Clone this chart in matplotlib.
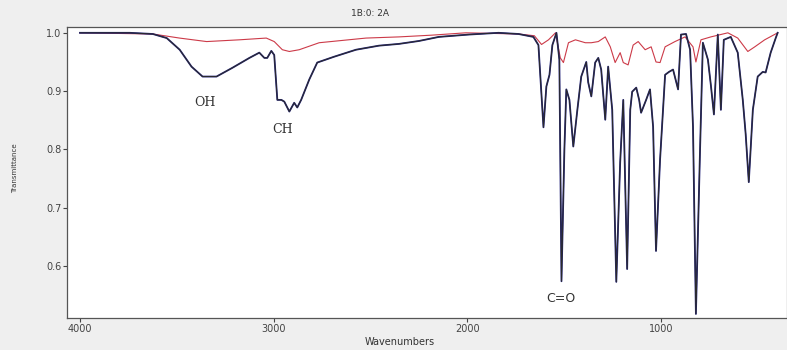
import matplotlib
matplotlib.use("Agg")
import matplotlib.pyplot as plt

# sample spectrum (wavenumber, transmittance)
sample_wn = [4000, 3743, 3624, 3552, 3485, 3424, 3367, 3295, 3213, 3125, 3074, 3048, 3033, 3012,
             2997, 2981, 2960, 2945, 2919, 2894, 2878, 2858, 2816, 2775, 2688, 2575,
             2456, 2353, 2250, 2147, 1993, 1839, 1736, 1659, 1633, 1607, 1592, 1576,
             1561, 1540, 1525, 1514, 1499, 1489, 1473, 1453, 1432, 1412, 1386, 1376,
             1360, 1340, 1324, 1309, 1288, 1273, 1252, 1231, 1211, 1195, 1175, 1159,
             1149, 1128, 1113, 1103, 1077, 1057, 1041, 1026, 1005, 979, 959, 938,
             912, 897, 871, 850, 835, 820, 799, 784, 758, 743, 727, 707, 691, 676,
             640, 604, 578, 563, 547, 526, 501, 475, 460, 434, 408, 398]
sample_t = [1.000, 1.000, 0.998, 0.991, 0.971, 0.942, 0.925, 0.925, 0.940, 0.957, 0.966, 0.957, 0.957, 0.969,
            0.962, 0.885, 0.885, 0.882, 0.865, 0.880, 0.872, 0.885, 0.920, 0.949, 0.959, 0.971,
            0.978, 0.981, 0.986, 0.993, 0.997, 1.000, 0.998, 0.993, 0.979, 0.838, 0.908, 0.928,
            0.979, 1.000, 0.954, 0.574, 0.800, 0.903, 0.885, 0.805, 0.868, 0.925, 0.950, 0.915,
            0.891, 0.949, 0.957, 0.937, 0.851, 0.942, 0.868, 0.573, 0.778, 0.885, 0.595, 0.868,
            0.899, 0.906, 0.885, 0.863, 0.885, 0.903, 0.839, 0.626, 0.783, 0.928, 0.933, 0.937,
            0.903, 0.997, 0.998, 0.971, 0.839, 0.518, 0.795, 0.983, 0.954, 0.911, 0.860, 0.997,
            0.868, 0.988, 0.993, 0.966, 0.885, 0.826, 0.744, 0.868, 0.925, 0.933, 0.932, 0.966,
            0.991, 1.000]

# reference spectrum
ref_wn = [4000, 3624, 3486, 3346, 3177, 3038, 2997, 2955, 2919, 2868, 2765, 2523,
          2353, 2183, 2008, 1736, 1654, 1617, 1581, 1545, 1520, 1504, 1478, 1442,
          1391, 1360, 1324, 1288, 1262, 1237, 1211, 1195, 1170, 1144, 1118, 1082,
          1051, 1026, 1005, 979, 928, 876, 835, 820, 794, 743, 655, 604, 552, 516,
          465, 398]
ref_t = [1.000, 0.998, 0.991, 0.985, 0.988, 0.991, 0.985, 0.971, 0.968, 0.971, 0.983, 0.991,
         0.993, 0.996, 1.000, 0.998, 0.995, 0.980, 0.988, 1.000, 0.957, 0.949, 0.983, 0.988,
         0.983, 0.983, 0.985, 0.993, 0.976, 0.949, 0.966, 0.949, 0.945, 0.979, 0.985, 0.971,
         0.976, 0.950, 0.949, 0.976, 0.985, 0.993, 0.976, 0.950, 0.988, 0.993, 1.000, 0.991,
         0.968, 0.976, 0.988, 1.000]

y_ticks = [0.6, 0.7, 0.8, 0.9, 1.0]
x_ticks = [4000, 3000, 2000, 1000]

# band labels: text, wavenumber, transmittance
bands = [("OH", 3357, 0.880, "serif"),
         ("CH", 2955, 0.834, "serif"),
         ("C=O", 1515, 0.545, "sans-serif")]

fig = plt.figure(figsize=(7.87, 3.5), dpi=100, facecolor="#efefef")
ax = fig.add_axes([0.0851, 0.0914, 0.9136, 0.8315])
ax.set_facecolor("white")

ax.plot(ref_wn, ref_t, color="#cc3a48", lw=0.8, zorder=2)
ax.plot(sample_wn, sample_t, color="#23237a", lw=1.3, zorder=3)
ax.plot(sample_wn, sample_t, color="#2b2b2b", lw=0.7, zorder=4)

ax.set_xlim(4067, 355)
ax.set_ylim(0.511, 1.010)
ax.set_xticks(x_ticks)
ax.set_xticklabels([str(v) for v in x_ticks])
ax.set_yticks(y_ticks)
ax.set_yticklabels(["%.1f" % v for v in y_ticks])
ax.tick_params(labelsize=7, colors="#444444", length=3, width=0.8, pad=1)

for s in ax.spines.values():
    s.set_color("#555555")
    s.set_linewidth(0.9)
ax.spines["right"].set_visible(False)

for text, wn, t, fam in bands:
    ax.text(wn, t, text, family=fam, fontsize=9, color="#333333",
            ha="center", va="center")

fig.text(0.47, 0.96, "1B:0: 2A", fontsize=6.5, color="#333333", ha="center", va="center")
fig.text(0.019, 0.52, "Transmittance", fontsize=5, color="#333333",
         rotation=90, ha="center", va="center")
fig.text(0.508, 0.022, "Wavenumbers", fontsize=7, color="#333333", ha="center", va="center")

fig.savefig("out.png", dpi=100, facecolor=fig.get_facecolor())
